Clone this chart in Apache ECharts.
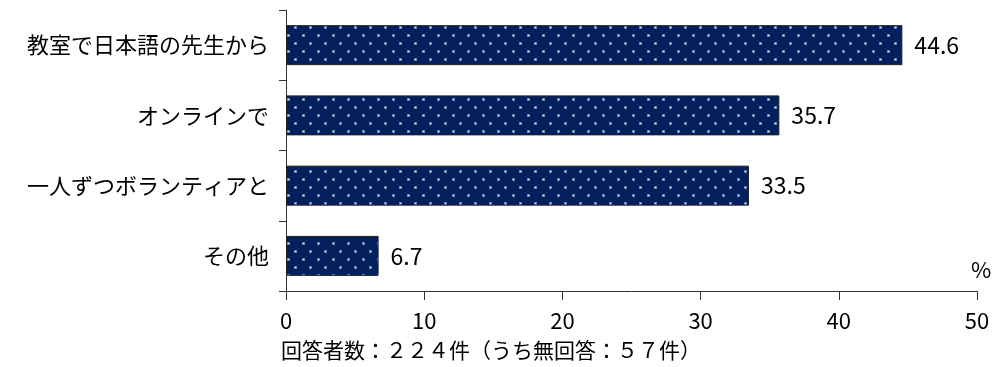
<!DOCTYPE html>
<html>
<head>
<meta charset="utf-8">
<script src="https://cdn.jsdelivr.net/npm/echarts@6/dist/echarts.min.js"></script>
<style>
  html, body { margin: 0; padding: 0; background: #fff; }
  #chart { width: 996px; height: 367px; }
</style>
</head>
<body>
<div id="chart"></div>
<script>
// Learning style categories (top to bottom) and their shares in percent
const categories = ['教室で日本語の先生から', 'オンラインで', '一人ずつボランティアと', 'その他'];
const shares = [44.6, 35.7, 33.5, 6.7];
const xTicks = [0, 10, 20, 30, 40, 50];
const unitLabel = '%';
const footnote = '回答者数：２２４件（うち無回答：５７件）';

const FONT = '"Noto Sans CJK JP", "Noto Sans", sans-serif';

// Navy fill with a staggered grid of small light dots
function dotPattern() {
  const c = document.createElement('canvas');
  c.width = 15; c.height = 16;
  const g = c.getContext('2d');
  g.fillStyle = '#03205e';
  g.fillRect(0, 0, 15, 16);
  g.fillStyle = 'rgba(200,210,230,0.55)';
  g.fillRect(2, 2, 3, 3);
  g.fillRect(9, 10, 3, 3);
  g.fillStyle = '#e6ebf4';
  g.fillRect(3, 3, 1, 1);
  g.fillRect(10, 11, 1, 1);
  return c;
}

const chart = echarts.init(document.getElementById('chart'), null, { renderer: 'canvas' });
chart.setOption({
  animation: false,
  grid: { left: 286, right: 19, top: 10, bottom: 76, containLabel: false },
  xAxis: {
    type: 'value',
    min: xTicks[0],
    max: xTicks[xTicks.length - 1],
    interval: xTicks[1] - xTicks[0],
    splitLine: { show: false },
    axisLine: { show: true, lineStyle: { color: '#333', width: 1 } },
    axisTick: { show: true, length: 9, lineStyle: { color: '#333' } },
    axisLabel: { color: '#000', fontSize: 22, fontFamily: FONT, margin: 19 }
  },
  yAxis: {
    type: 'category',
    data: categories,
    inverse: true,
    axisLine: { show: true, lineStyle: { color: '#333', width: 1 } },
    axisTick: { show: true, length: 7, lineStyle: { color: '#333' } },
    axisLabel: { color: '#000', fontSize: 22, fontFamily: FONT, margin: 17 }
  },
  series: [{
    type: 'bar',
    data: shares,
    barWidth: 40,
    itemStyle: {
      color: { image: dotPattern(), repeat: 'repeat' },
      borderColor: '#222',
      borderWidth: 1
    },
    label: {
      show: true,
      position: 'right',
      distance: 12,
      color: '#000',
      fontSize: 23,
      fontFamily: FONT,
      formatter: p => p.value.toFixed(1)
    }
  }],
  graphic: [
    {
      type: 'text', left: 971, top: 259,
      style: { text: unitLabel, fontSize: 22, fontFamily: FONT, fill: '#000' }
    },
    {
      type: 'text', left: 281, top: 340,
      style: { text: footnote, fontSize: 21, fontFamily: FONT, fill: '#000' }
    }
  ]
});
</script>
</body>
</html>
